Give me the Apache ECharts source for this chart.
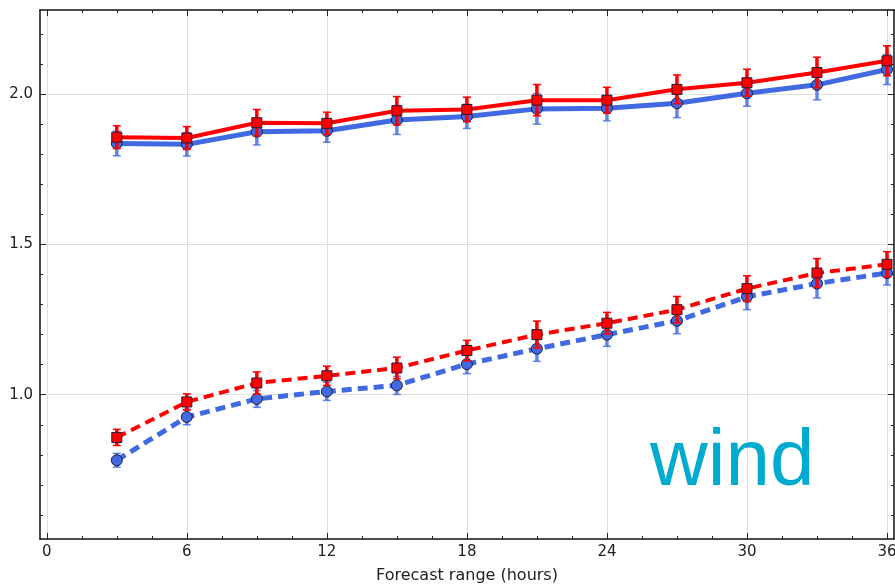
<!DOCTYPE html>
<html lang="en" style="height: 100%">
<head>
    <meta charset="UTF-8">
    <title>wind</title>
</head>
<body style="height: 100%; margin: 0">
<div id="container" style="width: 895px; height: 586px"></div>
<script src="https://cdn.jsdelivr.net/npm/echarts@6/dist/echarts.min.js"></script>
<script>
    // forecast range (hours)
    var hours = [3, 6, 9, 12, 15, 18, 21, 24, 27, 30, 33, 36];

    // solid curves
    var redSolid = [1.857, 1.854, 1.905, 1.903, 1.945, 1.949, 1.980, 1.980, 2.016, 2.038, 2.072, 2.111];
    var redSolidErr = [0.038, 0.038, 0.044, 0.037, 0.047, 0.041, 0.052, 0.043, 0.048, 0.045, 0.051, 0.050];
    var blueSolid = [1.836, 1.833, 1.875, 1.878, 1.914, 1.926, 1.951, 1.953, 1.970, 2.003, 2.031, 2.082];
    var blueSolidErr = [0.041, 0.039, 0.044, 0.038, 0.048, 0.040, 0.051, 0.042, 0.048, 0.043, 0.050, 0.050];

    // dashed curves
    var redDash = [0.858, 0.976, 1.039, 1.063, 1.089, 1.147, 1.200, 1.238, 1.283, 1.353, 1.405, 1.434];
    var redDashErr = [0.027, 0.027, 0.037, 0.032, 0.036, 0.034, 0.045, 0.036, 0.044, 0.043, 0.048, 0.042];
    var blueDash = [0.782, 0.926, 0.986, 1.011, 1.031, 1.102, 1.153, 1.200, 1.246, 1.326, 1.370, 1.405];
    var blueDashErr = [0.023, 0.026, 0.028, 0.030, 0.030, 0.032, 0.042, 0.039, 0.043, 0.043, 0.048, 0.040];

    // ticks
    var xMajor = [0, 6, 12, 18, 24, 30, 36];
    var xMinor = [1.5, 3, 4.5, 7.5, 9, 10.5, 13.5, 15, 16.5, 19.5, 21, 22.5, 25.5, 27, 28.5, 31.5, 33, 34.5];
    var yMajor = [1.0, 1.5, 2.0];
    var yMinor = [0.6, 0.7, 0.8, 0.9, 1.1, 1.2, 1.3, 1.4, 1.6, 1.7, 1.8, 1.9, 2.1, 2.2];

    var X_MIN = -0.29, X_MAX = 36.3, Y_MIN = 0.52, Y_MAX = 2.28;
    var FONT = '"DejaVu Sans", sans-serif';
    var RED = '#ff0000';
    var BLUE = '#4169e1';

    function pairs(ys) {
        return hours.map(function (h, i) { return [h, ys[i]]; });
    }
    function triples(ys, es) {
        return hours.map(function (h, i) { return [h, ys[i], es[i]]; });
    }

    function errorBars(color) {
        return function (params, api) {
            var x = api.value(0), y = api.value(1), e = api.value(2);
            var top = api.coord([x, y + e]);
            var bot = api.coord([x, y - e]);
            var w = 4;
            return {
                type: 'group',
                children: [
                    {type: 'line', shape: {x1: top[0], y1: top[1], x2: bot[0], y2: bot[1]}, style: {stroke: color, lineWidth: 3.5}},
                    {type: 'line', shape: {x1: top[0] - w, y1: top[1], x2: top[0] + w, y2: top[1]}, style: {stroke: color, lineWidth: 1.5}},
                    {type: 'line', shape: {x1: bot[0] - w, y1: bot[1], x2: bot[0] + w, y2: bot[1]}, style: {stroke: color, lineWidth: 1.5}}
                ]
            };
        };
    }

    function barSeries(ys, es, color, z) {
        return {
            type: 'custom',
            renderItem: errorBars(color),
            data: triples(ys, es),
            encode: {x: 0, y: 1},
            clip: true,
            silent: true,
            z: z
        };
    }

    function lineSeries(ys, color, symbol, dashed, width, z) {
        return {
            type: 'line',
            data: pairs(ys),
            symbol: symbol,
            symbolSize: symbol === 'rect' ? 10 : 11,
            showSymbol: true,
            lineStyle: {color: color, width: width, type: dashed ? [10, 6] : 'solid'},
            itemStyle: {color: color, borderColor: '#1e1e3c', borderWidth: 1},
            emphasis: {disabled: true},
            silent: true,
            z: z
        };
    }

    function xAxis(pos, ticks, len, main) {
        return {
            type: 'value', min: X_MIN, max: X_MAX, position: pos,
            axisLine: {show: main, onZero: false, lineStyle: {color: '#111', width: 1.5}},
            axisTick: {show: true, inside: true, length: len, customValues: ticks, lineStyle: {color: '#222'}},
            axisLabel: {show: main && pos === 'bottom', customValues: ticks, color: '#222', fontSize: 15, fontFamily: FONT, margin: 6},
            splitLine: {show: main && pos === 'bottom', lineStyle: {color: '#dedede', width: 1}},
            name: main && pos === 'bottom' ? 'Forecast range (hours)' : '',
            nameLocation: 'middle',
            nameGap: 29,
            nameTextStyle: {color: '#222', fontSize: 16, fontFamily: FONT}
        };
    }

    function yAxis(pos, ticks, len, main) {
        return {
            type: 'value', min: Y_MIN, max: Y_MAX, position: pos,
            axisLine: {show: main, onZero: false, lineStyle: {color: '#111', width: 1.5}},
            axisTick: {show: true, inside: true, length: len, customValues: ticks, lineStyle: {color: '#222'}},
            axisLabel: {show: main && pos === 'left', customValues: ticks, color: '#222', fontSize: 15, fontFamily: FONT, margin: 7,
                formatter: function (v) { return v.toFixed(1); }},
            splitLine: {show: main && pos === 'left', lineStyle: {color: '#dedede', width: 1}}
        };
    }

    var chart = echarts.init(document.getElementById('container'));

    var option = {
        animation: false,
        backgroundColor: '#ffffff',
        grid: {left: 40, right: 1, top: 10, bottom: 47, containLabel: false, outerBoundsMode: 'none'},
        xAxis: [
            xAxis('bottom', xMajor, 6, true),
            xAxis('bottom', xMinor, 3, false),
            xAxis('top', xMajor, 6, true),
            xAxis('top', xMinor, 3, false)
        ],
        yAxis: [
            yAxis('left', yMajor, 6, true),
            yAxis('left', yMinor, 3, false),
            yAxis('right', yMajor, 6, true),
            yAxis('right', yMinor, 3, false)
        ],
        graphic: [{
            type: 'text',
            left: 650,
            top: 423,
            z: 1,
            style: {text: 'wind', fill: '#00abd0', font: '80px "Liberation Sans", Arial, sans-serif'}
        }],
        series: [
            barSeries(blueSolid, blueSolidErr, 'rgba(65,105,225,0.8)', 2),
            barSeries(blueDash, blueDashErr, 'rgba(65,105,225,0.8)', 2),
            lineSeries(blueSolid, BLUE, 'circle', false, 5, 3),
            lineSeries(blueDash, BLUE, 'circle', true, 5, 3),
            barSeries(redSolid, redSolidErr, RED, 4),
            barSeries(redDash, redDashErr, RED, 4),
            lineSeries(redSolid, RED, 'rect', false, 4, 5),
            lineSeries(redDash, RED, 'rect', true, 4, 5)
        ]
    };

    chart.setOption(option);
</script>
</body>
</html>
